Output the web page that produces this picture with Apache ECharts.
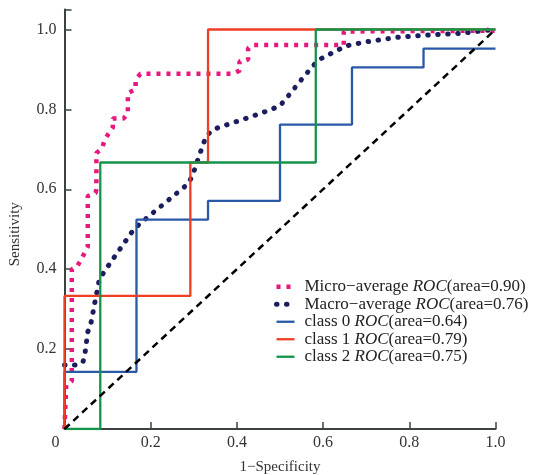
<!DOCTYPE html>
<html><head><meta charset="utf-8">
<script src="https://cdn.jsdelivr.net/npm/echarts@6/dist/echarts.min.js"></script>
<style>html,body{margin:0;padding:0;background:#fff}#c{width:539px;height:475px}</style>
</head><body><div id="c"></div>
<script>
const legendPrefix = ['Micro−average ', 'Macro−average ', 'class 0 ', 'class 1 ', 'class 2 '];
const areas = ['0.90', '0.76', '0.64', '0.79', '0.75'];
const xTicks = [0.2, 0.4, 0.6, 0.8, 1.0];
const yTicks = [0.2, 0.4, 0.6, 0.8, 1.0];

const microROC = [[0,0],[0.004,0.11],[0.017,0.12],[0.017,0.4],[0.029,0.406],[0.04,0.427],[0.054,0.456],[0.054,0.583],[0.072,0.591],[0.074,0.6],[0.074,0.691],[0.087,0.702],[0.093,0.723],[0.102,0.739],[0.112,0.754],[0.112,0.777],[0.137,0.777],[0.147,0.79],[0.147,0.841],[0.165,0.85],[0.165,0.873],[0.176,0.889],[0.391,0.889],[0.406,0.897],[0.406,0.92],[0.426,0.925],[0.426,0.953],[0.437,0.961],[0.648,0.961],[0.648,0.995],[1,0.997]];
const macroROC = [[0,0.16],[0.028,0.16],[0.043,0.168],[0.048,0.193],[0.054,0.243],[0.062,0.268],[0.071,0.32],[0.08,0.37],[0.091,0.392],[0.118,0.434],[0.159,0.497],[0.176,0.515],[0.213,0.548],[0.249,0.58],[0.286,0.613],[0.297,0.634],[0.312,0.683],[0.328,0.731],[0.343,0.749],[0.364,0.757],[0.409,0.773],[0.455,0.79],[0.499,0.808],[0.515,0.828],[0.544,0.867],[0.575,0.907],[0.59,0.924],[0.611,0.936],[0.654,0.959],[0.7,0.969],[0.77,0.98],[0.841,0.986],[0.913,0.99],[1,1]];
const class0ROC = [[0,0],[0,0.143],[0.167,0.143],[0.167,0.524],[0.333,0.524],[0.333,0.571],[0.5,0.571],[0.5,0.762],[0.667,0.762],[0.667,0.905],[0.833,0.905],[0.833,0.952],[1,0.952]];
const class1ROC = [[0,0],[0,0.333],[0.292,0.333],[0.292,0.667],[0.333,0.667],[0.333,1],[1,1]];
const class2ROC = [[0,0],[0.083,0],[0.083,0.667],[0.583,0.667],[0.583,1],[1,1]];
const chanceLine = [[0,0],[1,1]];

const colors = ['#e6177e', '#1b1d5e', '#2858a6', '#ef3e24', '#14944a'];
const FONT = 'Liberation Serif';
const names = legendPrefix.map((p, i) => p + 'ROC(area=' + areas[i] + ')');

const chart = echarts.init(document.getElementById('c'), null, {renderer: 'canvas'});
const lineBase = {type: 'line', showSymbol: false, symbol: 'none', animation: false, z: 2};
chart.setOption({
  animation: false,
  backgroundColor: '#fff',
  grid: {left: 64.5, right: 43.5, top: 9.5, bottom: 46, containLabel: false, outerBoundsMode: 'none'},
  xAxis: {
    type: 'value', min: 0, max: 1,
    name: '1−Specificity', nameLocation: 'middle', nameGap: 31,
    nameTextStyle: {fontFamily: FONT, fontSize: 15, color: '#333'},
    axisLine: {show: true, onZero: false, lineStyle: {color: '#3c4242', width: 2}},
    axisTick: {show: true, inside: true, length: 7, lineStyle: {color: '#3c4242', width: 1.5}, customValues: xTicks},
    axisLabel: {
      customValues: [0].concat(xTicks), margin: 6,
      fontFamily: FONT, fontSize: 16, color: '#333',
      formatter: v => v === 0 ? '{z|0}' : v.toFixed(1),
      rich: {z: {fontFamily: FONT, fontSize: 16, color: '#333', padding: [0, 18, 0, 0]}}
    },
    splitLine: {show: false}
  },
  yAxis: {
    type: 'value', min: 0, max: 1.05,
    name: 'Sensitivity', nameLocation: 'middle', nameGap: 42, nameRotate: 90,
    nameTextStyle: {fontFamily: FONT, fontSize: 15, color: '#333', padding: [0, 30, 0, 0]},
    axisLine: {show: true, onZero: false, lineStyle: {color: '#3c4242', width: 2}},
    axisTick: {show: true, inside: true, length: 7, lineStyle: {color: '#3c4242', width: 1.5}, customValues: yTicks.concat([1.05])},
    axisLabel: {
      customValues: yTicks, margin: 8,
      fontFamily: FONT, fontSize: 16, color: '#333',
      formatter: v => v.toFixed(1)
    },
    splitLine: {show: false}
  },
  legend: {
    left: 269, top: 273, orient: 'vertical',
    itemWidth: 18, itemHeight: 10, itemGap: 0,
    data: names,
    itemStyle: {opacity: 0},
    lineStyle: {width: 'inherit'},
    formatter: function (name) {
      const i = names.indexOf(name);
      return '{f|' + legendPrefix[i] + '}{i|ROC}{n|(area=' + areas[i] + ')}';
    },
    textStyle: {
      fontFamily: FONT, fontSize: 17, color: '#222', lineHeight: 17.5,
      rich: {
        f: {fontFamily: FONT, fontSize: 17, color: '#222', lineHeight: 17.5, padding: [0, 0, 0, 5]},
        n: {fontFamily: FONT, fontSize: 17, color: '#222', lineHeight: 17.5},
        i: {fontFamily: FONT, fontSize: 17, color: '#222', fontStyle: 'italic', lineHeight: 17.5}
      }
    }
  },
  series: [
    Object.assign({}, lineBase, {name: names[0], data: microROC, color: colors[0],
      lineStyle: {color: colors[0], width: 4.5, type: [4, 6], cap: 'butt'}}),
    Object.assign({}, lineBase, {name: names[1], data: macroROC, color: colors[1],
      lineStyle: {color: colors[1], width: 5, type: [0.5, 9.5], cap: 'round'}}),
    Object.assign({}, lineBase, {name: names[2], data: class0ROC, color: colors[2],
      lineStyle: {color: colors[2], width: 2.3}}),
    Object.assign({}, lineBase, {name: names[3], data: class1ROC, color: colors[3],
      lineStyle: {color: colors[3], width: 2.3}}),
    Object.assign({}, lineBase, {name: names[4], data: class2ROC, color: colors[4],
      lineStyle: {color: colors[4], width: 2.3}}),
    Object.assign({}, lineBase, {name: 'chance', data: chanceLine, color: '#000',
      lineStyle: {color: '#000', width: 2.5, type: [7, 5]}})
  ]
});
</script></body></html>
